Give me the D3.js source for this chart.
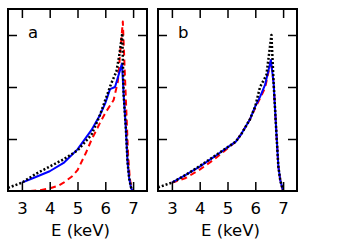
<!DOCTYPE html>
<html><head><meta charset="utf-8">
<script src="https://cdn.jsdelivr.net/npm/d3@7"></script>
<style>
html,body{margin:0;padding:0;background:#fff;}
svg{display:block;}
text{font-family:"DejaVu Sans",Verdana,sans-serif;}
</style></head>
<body>
<svg id="c" width="341" height="248"></svg>
<script>
// ---- data ----
const xTicks = [3, 4, 5, 6, 7];
const yTicks = [1, 2, 3];
const panelLabels = ["a", "b"];
const xLabel = "E (keV)";

// Panel a
const aBlackE = [2.5, 3.0, 3.5, 4.0, 4.5, 5.0, 5.5, 5.8, 6.0, 6.2, 6.4, 6.5, 6.61, 6.66, 6.74, 6.8, 6.86, 6.92, 6.97];
const aBlackV = [0.06, 0.16, 0.33, 0.47, 0.61, 0.78, 1.08, 1.45, 1.75, 2.05, 2.3, 2.6, 3.03, 1.85, 1.2, 0.56, 0.24, 0.08, 0.0];
const aBlueE = [3.0, 3.5, 4.0, 4.5, 5.0, 5.5, 5.8, 6.0, 6.17, 6.35, 6.6, 6.66, 6.74, 6.8, 6.86, 6.92, 6.97];
const aBlueV = [0.16, 0.27, 0.38, 0.54, 0.8, 1.17, 1.45, 1.69, 1.96, 2.0, 2.45, 1.85, 1.2, 0.56, 0.24, 0.08, 0.0];
const aRedE = [3.3, 3.7, 4.0, 4.3, 4.5, 4.8, 5.0, 5.3, 5.5, 5.8, 6.0, 6.3, 6.45, 6.55, 6.63, 6.7, 6.76, 6.82, 6.88, 6.94, 6.98];
const aRedV = [0.0, 0.02, 0.05, 0.1, 0.16, 0.28, 0.40, 0.73, 0.98, 1.3, 1.5, 1.75, 2.1, 2.75, 3.26, 2.3, 1.5, 0.7, 0.25, 0.06, 0.0];

// Panel b
const bBlackE = [2.5, 3.0, 3.5, 4.0, 4.5, 5.0, 5.3, 5.5, 5.8, 6.0, 6.17, 6.4, 6.58, 6.66, 6.76, 6.83, 6.9, 6.95, 7.0];
const bBlackV = [0.07, 0.16, 0.31, 0.48, 0.66, 0.84, 0.95, 1.1, 1.37, 1.63, 2.0, 2.23, 3.0, 2.07, 1.1, 0.47, 0.2, 0.1, 0.0];
const bBlueE = [3.0, 3.5, 4.0, 4.5, 5.0, 5.3, 5.5, 5.8, 6.0, 6.17, 6.35, 6.56, 6.66, 6.76, 6.83, 6.9, 6.95, 7.0];
const bBlueV = [0.16, 0.31, 0.47, 0.65, 0.84, 0.95, 1.1, 1.37, 1.63, 1.81, 2.04, 2.52, 2.07, 1.1, 0.47, 0.2, 0.1, 0.0];
const bRedE = [3.0, 3.5, 4.0, 4.5, 5.0, 5.3, 5.5, 5.8, 6.0, 6.17, 6.35, 6.56, 6.66, 6.76, 6.83, 6.9, 6.95, 7.0];
const bRedV = [0.16, 0.25, 0.41, 0.6, 0.82, 0.95, 1.1, 1.37, 1.6, 1.78, 1.98, 2.5, 2.07, 1.1, 0.47, 0.2, 0.1, 0.0];

const panels = [
  {label: panelLabels[0], left: 8, series: [
    {E: aRedE, V: aRedV, color: "#ff0000", dash: "6,4", w: 2},
    {E: aBlueE, V: aBlueV, color: "#0000ff", dash: null, w: 2},
    {E: aBlackE, V: aBlackV, color: "#000000", dash: "2,2", w: 2.5}]},
  {label: panelLabels[1], left: 158, series: [
    {E: bRedE, V: bRedV, color: "#ff0000", dash: "6,4", w: 2},
    {E: bBlueE, V: bBlueV, color: "#0000ff", dash: null, w: 2},
    {E: bBlackE, V: bBlackV, color: "#000000", dash: "2,2", w: 2.5}]}
];

const PW = 139, PTOP = 9, PBOT = 191;
const FONT = "DejaVu Sans, Verdana, sans-serif";
const svg = d3.select("#c");
const y = d3.scaleLinear().domain([0, 3.5]).range([PBOT, PTOP]);

panels.forEach(p => {
  const x = d3.scaleLinear().domain([2.5, 7.5]).range([p.left, p.left + PW]);
  const g = svg.append("g");
  const clipId = "clip" + p.label;
  svg.append("clipPath").attr("id", clipId).append("rect")
    .attr("x", p.left).attr("y", PTOP).attr("width", PW).attr("height", PBOT - PTOP);

  const line = d3.line().x((d) => x(d[0])).y((d) => y(d[1]));
  p.series.forEach(s => {
    const pts = s.E.map((e, i) => [e, s.V[i]]);
    g.append("path").attr("clip-path", `url(#${clipId})`)
      .attr("d", line(pts)).attr("fill", "none")
      .attr("stroke", s.color).attr("stroke-width", s.w)
      .attr("stroke-dasharray", s.dash)
      .attr("stroke-linejoin", "round");
  });

  const axB = g.append("g").attr("transform", `translate(0,${PBOT})`)
    .call(d3.axisBottom(x).tickValues(xTicks).tickSize(-9).tickPadding(11).tickFormat(d3.format("d")));
  const axT = g.append("g").attr("transform", `translate(0,${PTOP})`)
    .call(d3.axisTop(x).tickValues(xTicks).tickSize(-9).tickFormat(""));
  const axL = g.append("g").attr("transform", `translate(${p.left},0)`)
    .call(d3.axisLeft(y).tickValues(yTicks).tickSize(-9).tickFormat(""));
  const axR = g.append("g").attr("transform", `translate(${p.left + PW},0)`)
    .call(d3.axisRight(y).tickValues(yTicks).tickSize(-9).tickFormat(""));
  [axB, axT, axL, axR].forEach(a => {
    a.select(".domain").remove();
    a.selectAll(".tick line").attr("stroke", "#000").attr("stroke-width", 1.5);
  });
  axB.selectAll("text").attr("font-size", 16.5).attr("fill", "#000")
    .attr("font-family", FONT);

  g.append("rect").attr("x", p.left).attr("y", PTOP).attr("width", PW).attr("height", PBOT - PTOP)
    .attr("fill", "none").attr("stroke", "#000").attr("stroke-width", 2);

  g.append("text").attr("x", p.left + 20).attr("y", 38).attr("font-size", 16.5)
    .attr("font-family", FONT).text(p.label);
  g.append("text").attr("x", p.left + PW / 2 + 3).attr("y", 236).attr("text-anchor", "middle")
    .attr("font-size", 16.5).attr("font-family", FONT).text(xLabel);
});
</script>
</body></html>
